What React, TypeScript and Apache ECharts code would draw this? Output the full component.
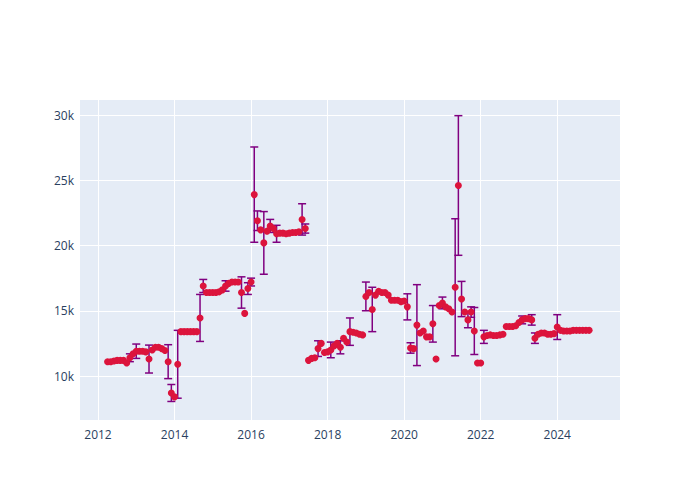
import React, { useEffect, useRef } from "react";
import * as echarts from "echarts";

const months: string[] = [
  "2012-04","2012-05","2012-06","2012-07","2012-08","2012-09","2012-10","2012-11","2012-12",
  "2013-01","2013-02","2013-03","2013-04","2013-05","2013-06","2013-07","2013-08","2013-09","2013-10","2013-11","2013-12",
  "2014-01","2014-02","2014-03","2014-04","2014-05","2014-06","2014-07","2014-08","2014-09","2014-10","2014-11","2014-12",
  "2015-01","2015-02","2015-03","2015-04","2015-05","2015-06","2015-07","2015-08","2015-09","2015-10","2015-11","2015-12",
  "2016-01","2016-02","2016-03","2016-04","2016-05","2016-06","2016-07","2016-08","2016-09","2016-10","2016-11","2016-12",
  "2017-01","2017-02","2017-03","2017-04","2017-05","2017-06","2017-07","2017-08","2017-09","2017-10","2017-11","2017-12",
  "2018-01","2018-02","2018-03","2018-04","2018-05","2018-06","2018-07","2018-08","2018-09","2018-10","2018-11","2018-12",
  "2019-01","2019-02","2019-03","2019-04","2019-05","2019-06","2019-07","2019-08","2019-09","2019-10","2019-11","2019-12",
  "2020-01","2020-02","2020-03","2020-04","2020-05","2020-06","2020-07","2020-08","2020-09","2020-10","2020-11","2020-12",
  "2021-01","2021-02","2021-03","2021-04","2021-05","2021-06","2021-07","2021-08","2021-09","2021-10","2021-11","2021-12",
  "2022-01","2022-02","2022-03","2022-04","2022-05","2022-06","2022-07","2022-08","2022-09","2022-10","2022-11","2022-12",
  "2023-01","2023-02","2023-03","2023-04","2023-05","2023-06","2023-07","2023-08","2023-09","2023-10","2023-11","2023-12",
  "2024-01","2024-02","2024-03","2024-04","2024-05","2024-06","2024-07","2024-08","2024-09","2024-10","2024-11",
];

const values: number[] = [
  11100, 11100, 11150, 11200, 11200, 11200, 11000, 11400, 11700,
  11900, 11900, 11900, 11850, 11300, 12000, 12200, 12200, 12100, 11950, 11100, 8700,
  8400, 10900, 13400, 13400, 13400, 13400, 13400, 13400, 14450, 16900, 16400, 16400,
  16400, 16400, 16450, 16600, 16900, 17100, 17200, 17200, 17200, 16400, 14800, 16700,
  17200, 23900, 21900, 21200, 20200, 21100, 21500, 21300, 20900, 20950, 20950, 20900,
  20950, 21000, 21000, 21050, 22000, 21300, 11200, 11350, 11400, 12100, 12500, 11800,
  11850, 12000, 12300, 12500, 12200, 12900, 12600, 13400, 13350, 13300, 13200, 13150,
  16100, 16400, 15100, 16200, 16500, 16400, 16400, 16200, 15800, 15800, 15800, 15700,
  15750, 15300, 12150, 12100, 13900, 13300, 13450, 13000, 13000, 14000, 11300, 15400,
  15600, 15300, 15150, 14900, 16800, 24600, 15900, 14900, 14300, 14900, 13450, 11000,
  11000, 13000, 13100, 13150, 13100, 13100, 13150, 13200, 13800, 13800, 13800, 13850,
  14100, 14300, 14400, 14400, 14300, 12900, 13200, 13300, 13300, 13200, 13200, 13250,
  13750, 13500, 13450, 13450, 13450, 13500, 13500, 13500, 13500, 13500, 13500,
];

const errors: number[] = [
  0, 0, 0, 0, 0, 0, 0, 300, 0,
  550, 0, 0, 0, 1070, 0, 0, 0, 0, 0, 1300, 650,
  0, 2600, 0, 0, 0, 0, 0, 0, 1800, 500, 0, 0,
  0, 0, 0, 0, 400, 0, 0, 0, 0, 1200, 0, 450,
  300, 3650, 750, 0, 2400, 0, 500, 0, 650, 0, 0, 0,
  0, 0, 0, 0, 1200, 350, 0, 0, 0, 600, 0, 0,
  0, 600, 0, 0, 500, 0, 0, 1050, 0, 0, 0, 0,
  1100, 0, 1700, 0, 0, 0, 0, 0, 0, 0, 0, 0,
  0, 1000, 400, 0, 3100, 0, 0, 0, 0, 1400, 0, 0,
  450, 0, 0, 0, 5250, 5350, 1350, 0, 600, 400, 1800, 0,
  0, 500, 0, 0, 0, 0, 0, 0, 0, 0, 0, 0,
  0, 300, 0, 0, 400, 400, 0, 0, 0, 0, 0, 0,
  950, 0, 0, 0, 0, 0, 0, 0, 0, 0, 0,
];

const xTicks: number[] = [2012, 2014, 2016, 2018, 2020, 2022, 2024];
const yTicks: number[] = [10000, 15000, 20000, 25000, 30000];

function toYear(s: string): number {
  const [y, m] = s.split("-").map(Number);
  return y + (m - 1) / 12;
}

export default function App() {
  const ref = useRef<HTMLDivElement>(null);
  useEffect(() => {
    if (!ref.current) return;
    const chart = echarts.init(ref.current, null, { renderer: "svg" });
    const pts = months.map((m, i) => [toYear(m), values[i], errors[i]]);
    const axisText = { color: "#2a3f5f", fontSize: 12, fontFamily: "Open Sans" };
    chart.setOption({
      animation: false,
      grid: { left: 80, top: 100, width: 540, height: 320, backgroundColor: "#E5ECF6", show: true, borderWidth: 0 },
      xAxis: {
        type: "value",
        min: 2011.53,
        max: 2025.64,
        axisLine: { show: false },
        axisTick: { show: false, customValues: xTicks },
        axisLabel: { ...axisText, customValues: xTicks, formatter: (v: number) => String(Math.round(v)), margin: 8 },
        splitLine: { show: true, lineStyle: { color: "#ffffff", width: 1 }, customValues: xTicks },
      },
      yAxis: {
        type: "value",
        min: 6630,
        max: 31150,
        axisLine: { show: false },
        axisTick: { show: false, customValues: yTicks },
        axisLabel: { ...axisText, customValues: yTicks, formatter: (v: number) => Math.round(v / 1000) + "k", margin: 6 },
        splitLine: { show: true, lineStyle: { color: "#ffffff", width: 1 }, customValues: yTicks },
      },
      series: [
        {
          type: "custom",
          data: pts,
          encode: { x: 0, y: 1 },
          clip: true,
          renderItem: (params: any, api: any) => {
            const x = api.value(0);
            const v = api.value(1);
            const e = api.value(2);
            if (!e) return { type: "group", children: [] };
            const top = api.coord([x, v + e]);
            const bot = api.coord([x, v - e]);
            const hw = 4;
            const style = { stroke: "#800080", lineWidth: 1.5 };
            return {
              type: "group",
              children: [
                { type: "line", shape: { x1: top[0], y1: top[1], x2: bot[0], y2: bot[1] }, style },
                { type: "line", shape: { x1: top[0] - hw, y1: top[1], x2: top[0] + hw, y2: top[1] }, style },
                { type: "line", shape: { x1: bot[0] - hw, y1: bot[1], x2: bot[0] + hw, y2: bot[1] }, style },
              ],
            };
          },
        },
        {
          type: "scatter",
          data: pts.map((p) => [p[0], p[1]]),
          symbol: "circle",
          symbolSize: 7,
          itemStyle: { color: "#DC143C", opacity: 1 },
        },
      ],
    });
    return () => chart.dispose();
  }, []);
  return <div ref={ref} style={{ width: 700, height: 500, position: "absolute", left: 0, top: 0 }} />;
}
